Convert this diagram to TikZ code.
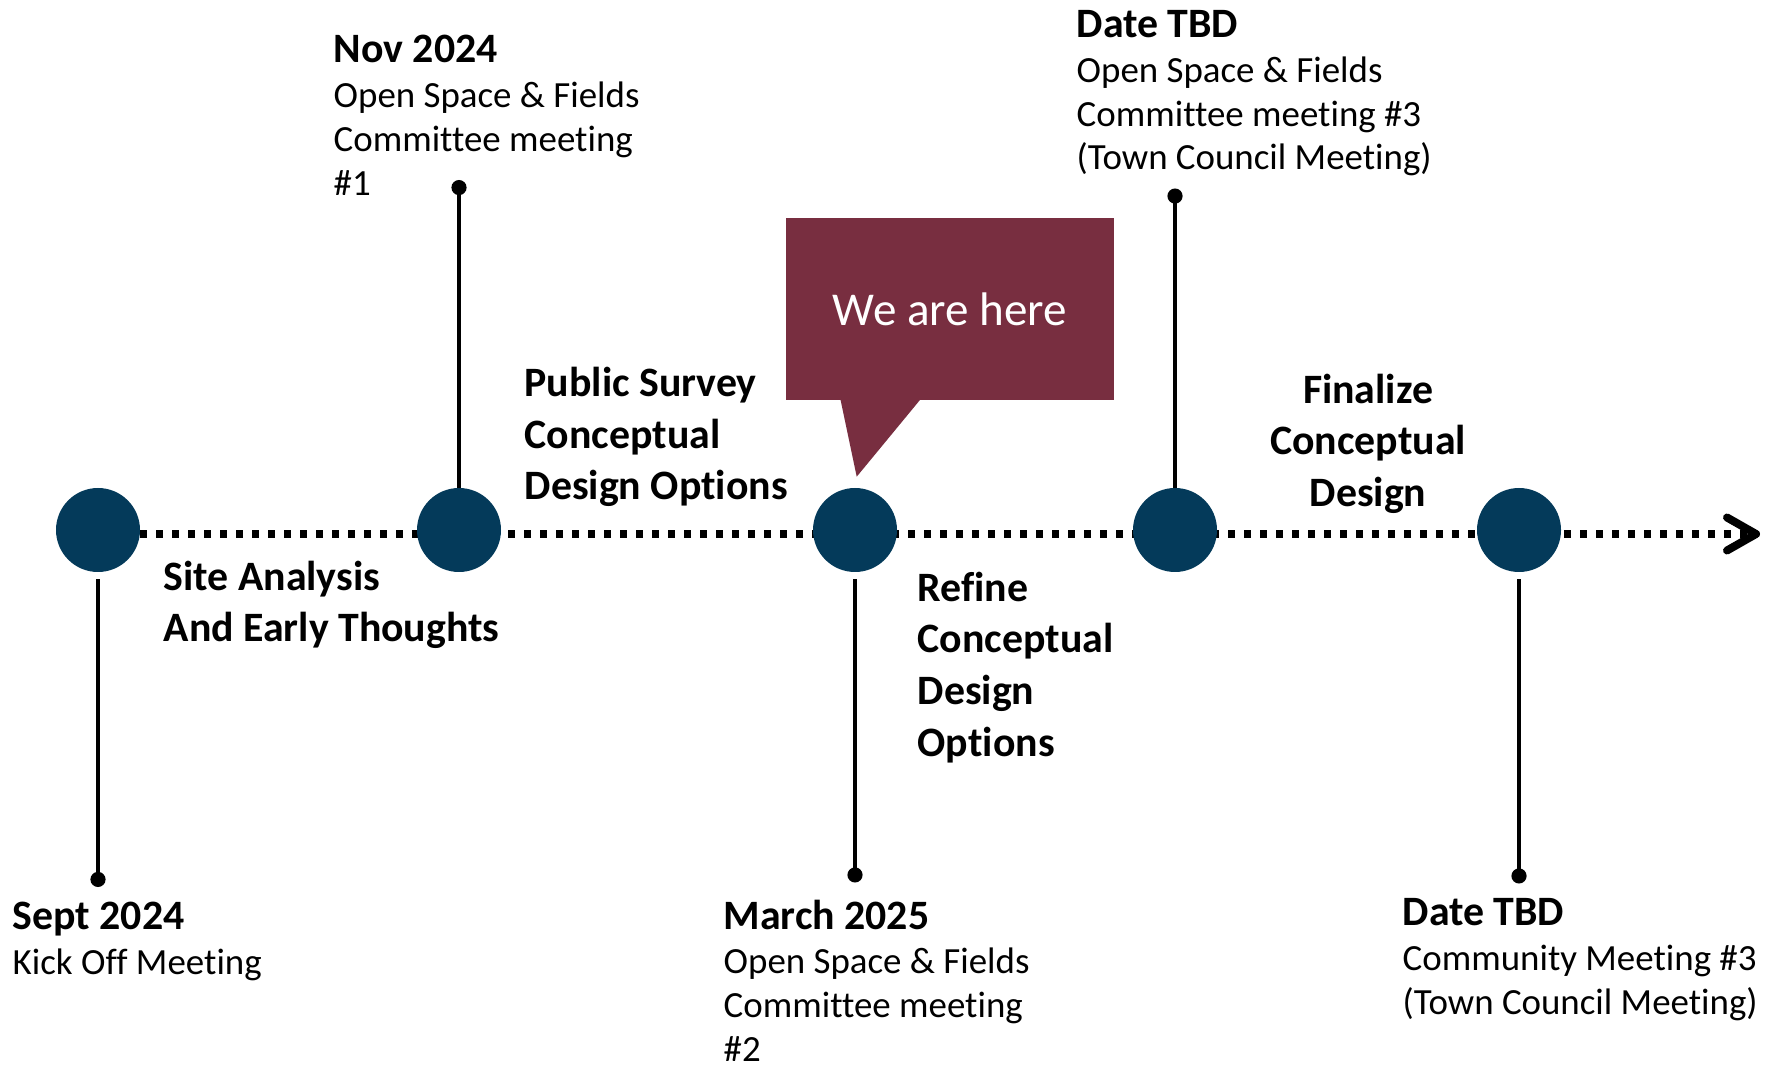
\documentclass[tikz,border=0pt]{standalone}
\usepackage{fontspec}
\setmainfont[Ligatures=NoCommon]{Carlito}
\usepackage{tikz}
\usetikzlibrary{arrows.meta, positioning, backgrounds}
\usepackage{xcolor}
\definecolor{navy}{HTML}{043A5A}
\definecolor{wine}{HTML}{782E40}

\newcommand{\hd}[1]{{\fontsize{11.9}{14}\selectfont\bfseries #1}}

\begin{document}
\begin{tikzpicture}[
        event/.style={circle, fill=navy, minimum size=0.84cm, inner sep=0pt, outer sep=0pt},
        stem/.style={line width=1pt, -{Circle[length=4.3pt]}},
        down/.style={stem, shorten <=0.07cm},
        track/.style={line width=0.08cm, dash pattern=on 0.07cm off 0.09cm, -{Straight Barb[length=0.29cm, width=0.33cm, round]}},
        datelabel/.style={anchor=base west, align=left, inner sep=0pt, font=\fontsize{10.5}{12.5}\selectfont},
        phaselabel/.style={anchor=base west, align=left, inner sep=0pt, font=\fontsize{11.9}{14.7}\selectfont\bfseries},
        bubble/.style={rectangle, fill=wine, text=white, minimum width=3.28cm, minimum height=1.82cm, font=\fontsize{13.4}{16}\selectfont}
    ]
    \useasboundingbox (0,0) rectangle (17.73,-10.66);

    % Milestones
    \node[event] (c1) at (0.98,-5.30) {};
    \node[event, right=2.77cm of c1] (c2) {};
    \node[event, right=3.12cm of c2] (c3) {};
    \node[event, right=2.36cm of c3] (c4) {};
    \node[event, right=2.60cm of c4] (c5) {};
    \coordinate (tip) at (17.60,-5.34);

    % Stem ends
    \coordinate[below=3.15cm of c1] (d1);
    \coordinate[above=3.08cm of c2] (d2);
    \coordinate[below=3.105cm of c3] (d3);
    \coordinate[above=2.995cm of c4] (d4);
    \coordinate[below=3.115cm of c5] (d5);

    % Timeline
    \begin{scope}[on background layer]
        \draw[track] (c1.east |- tip) -- (tip);
    \end{scope}

    % Stems
    \draw[down] (c1) -- (d1);
    \draw[stem] (c2) -- (d2);
    \draw[down] (c3) -- (d3);
    \draw[stem] (c4) -- (d4);
    \draw[down] (c5) -- (d5);

    % Dates (anchored on the last line)
    \node[datelabel] (sept) at (0.12,-9.74) {\hd{Sept 2024}\\[0.3pt]Kick Off Meeting};
    \node[datelabel] (nov) at (3.33,-1.955) {\hd{Nov 2024}\\[0.3pt]Open Space \& Fields\\Committee meeting\\\#1};
    \node[datelabel] (march) at (7.23,-10.617) {\hd{March 2025}\\[0.1pt]Open Space \& Fields\\Committee meeting\\\#2};
    \node[datelabel] (tbdtop) at (10.76,-1.70) {\hd{Date TBD}\\[0.3pt]Open Space \& Fields\\Committee meeting \#3\\(Town Council Meeting)};
    \node[datelabel] (tbdlow) at (14.02,-10.14) {\hd{Date TBD}\\[0.3pt]Community Meeting \#3\\(Town Council Meeting)};

    % Phases
    \node[phaselabel] (site) at (1.63,-6.42) {Site Analysis\\And Early Thoughts};
    \node[phaselabel] (survey) at (5.24,-5.00) {Public Survey\\Conceptual\\Design Options};
    \node[phaselabel] (refine) at (9.17,-7.56) {Refine\\Conceptual\\Design\\Options};
    \node[phaselabel, anchor=base, align=center] (final) at (13.68,-5.066) {Finalize\\Conceptual\\Design};

    % Callout
    \node[bubble] (here) at (9.50,-3.09) {We are here};
    \coordinate (point) at (8.567,-4.767);
    \fill[wine] ([xshift=0.55cm, yshift=0.02cm]here.south west) -- (point) -- ([xshift=1.357cm, yshift=0.02cm]here.south west) -- cycle;

\end{tikzpicture}
\end{document}
